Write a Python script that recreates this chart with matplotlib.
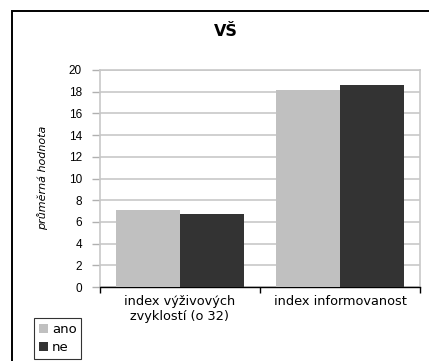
import matplotlib
matplotlib.use("Agg")
import matplotlib.pyplot as plt
import numpy as np
from matplotlib.patches import Rectangle, Patch

categories = ["index výživových\nzvyklostí (o 32)", "index informovanost"]
series_names = ["ano", "ne"]
ano_values = [7.1, 18.15]
ne_values = [6.75, 18.6]
colors = ["#c0c0c0", "#333333"]
yticks = list(range(0, 21, 2))

plt.rcParams['font.family'] = ['DejaVu Sans']

W, H = 429, 361
fig = plt.figure(figsize=(W / 100, H / 100), dpi=100)

# outer chart frame
fig.patches.append(Rectangle((12 / W, -0.05), 1.0, (H - 11) / H + 0.05,
                             transform=fig.transFigure, fill=False,
                             edgecolor="#000000", linewidth=1.4, clip_on=False))

ax = fig.add_axes([100 / W, (H - 287) / H, 320 / W, 217 / H])

x = np.arange(len(categories))
w = 0.4
ax.bar(x - w / 2, ano_values, width=w, color=colors[0], zorder=3)
ax.bar(x + w / 2, ne_values, width=w, color=colors[1], zorder=3)

ax.set_xlim(-0.5, len(categories) - 0.5)
ax.set_ylim(0, 20)
ax.set_yticks(yticks)
ax.set_yticklabels([str(t) for t in yticks], fontsize=8.5,
                   family=['Liberation Sans', 'DejaVu Sans'])
ax.yaxis.grid(True, color="#c8c8c8", linewidth=1.2, zorder=0)
ax.set_axisbelow(True)

ax.set_xticks(x)
ax.set_xticklabels(categories, fontsize=9.3, linespacing=1.15)
ax.tick_params(axis="x", which="major", length=0, pad=6)
ax.set_xticks(np.arange(-0.5, len(categories)), minor=True)
ax.tick_params(axis="x", which="minor", length=4, color="#000000", width=1)
ax.tick_params(axis="y", length=6, color="#b0b0b0", width=1, pad=7)

for side in ["top", "right", "left"]:
    ax.spines[side].set_color("#c8c8c8")
    ax.spines[side].set_linewidth(1.2)
ax.spines["bottom"].set_color("#000000")
ax.spines["bottom"].set_linewidth(1.0)

fig.text(43 / W, 1 - 178 / H, "průměrná hodnota", rotation=90,
         ha="center", va="center", fontsize=8, style="italic")

fig.text(226 / W, 1 - 31 / H, "VŠ", ha="center", va="center",
         fontsize=11.5, fontweight="bold")

handles = [Patch(facecolor=c, edgecolor="none") for c in colors]
leg = fig.legend(handles, series_names, loc="lower left",
                 bbox_to_anchor=(34 / W, 2 / H), frameon=True, fancybox=False,
                 edgecolor="#000000", fontsize=9.5, handlelength=0.7,
                 handleheight=0.7, handletextpad=0.3, labelspacing=0.4,
                 borderpad=0.35, borderaxespad=0)
leg.get_frame().set_linewidth(0.8)

fig.savefig("out.png", dpi=100)
